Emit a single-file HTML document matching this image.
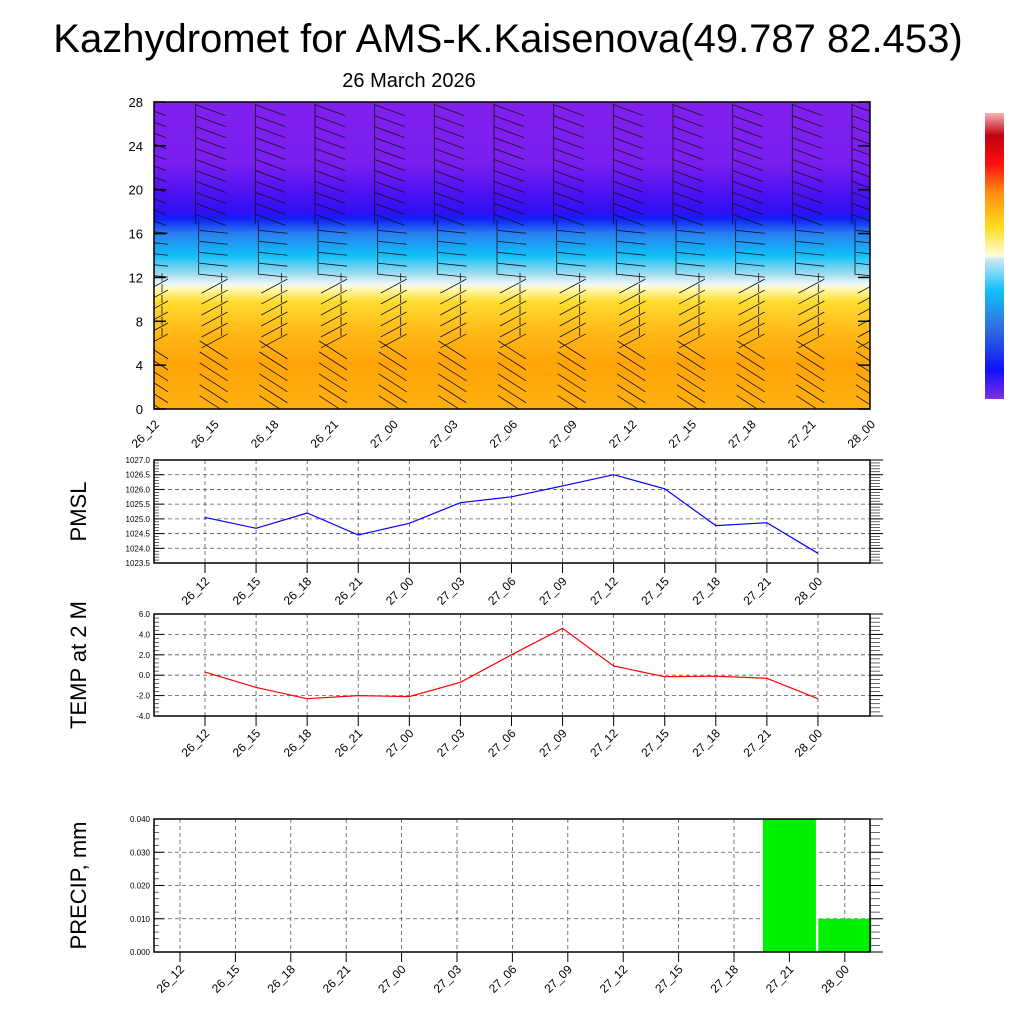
<!DOCTYPE html>
<html><head><meta charset="utf-8"><style>
html,body{margin:0;padding:0;background:#fff}
svg{display:block;font-family:"Liberation Sans",sans-serif}
</style></head><body>
<svg id="chart" width="1024" height="1024" viewBox="0 0 1024 1024" xmlns="http://www.w3.org/2000/svg">
<defs>
<clipPath id="plotclip"><rect x="154" y="102" width="716" height="307"/></clipPath>
<linearGradient id="cross" x1="0" y1="0" x2="0" y2="1">
<stop offset="0" stop-color="#8020ee"/>
<stop offset="0.2" stop-color="#7a1ef0"/>
<stop offset="0.3" stop-color="#4a12f2"/>
<stop offset="0.36" stop-color="#3010f4"/>
<stop offset="0.38" stop-color="#1020f8"/>
<stop offset="0.43" stop-color="#2a80f0"/>
<stop offset="0.5" stop-color="#10c0f8"/>
<stop offset="0.56" stop-color="#a0dcf0"/>
<stop offset="0.595" stop-color="#f4f8f8"/>
<stop offset="0.61" stop-color="#fff8b0"/>
<stop offset="0.65" stop-color="#ffdc30"/>
<stop offset="0.75" stop-color="#ffb818"/>
<stop offset="0.85" stop-color="#ffa408"/>
<stop offset="1" stop-color="#ffb010"/>
</linearGradient>
<linearGradient id="cbar" x1="0" y1="1" x2="0" y2="0">
<stop offset="0" stop-color="#8030e8"/>
<stop offset="0.1" stop-color="#1010f8"/>
<stop offset="0.25" stop-color="#3070e0"/>
<stop offset="0.38" stop-color="#10c0f8"/>
<stop offset="0.49" stop-color="#d0e8f4"/>
<stop offset="0.5" stop-color="#fffce0"/>
<stop offset="0.6" stop-color="#ffdc20"/>
<stop offset="0.72" stop-color="#ff9010"/>
<stop offset="0.82" stop-color="#ff1010"/>
<stop offset="0.92" stop-color="#c00010"/>
<stop offset="1" stop-color="#f8b0b0"/>
</linearGradient>
</defs>
<text x="508" y="52" font-size="40" text-anchor="middle">Kazhydromet for AMS-K.Kaisenova(49.787 82.453)</text>
<text x="409" y="87" font-size="20" text-anchor="middle">26 March 2026</text>
<rect x="154" y="102" width="716" height="307" fill="url(#cross)"/>
<g id="barbs" clip-path="url(#plotclip)"></g>
<rect x="154" y="102" width="716" height="307" fill="none" stroke="#000" stroke-width="1.5"/>
<g id="topaxis"></g>
<rect x="985" y="113" width="19" height="286" fill="url(#cbar)"/>
<g id="pmsl"></g>
<g id="temp"></g>
<g id="precip"></g>
</svg>
<script>
const times = ["26_12","26_15","26_18","26_21","27_00","27_03","27_06","27_09","27_12","27_15","27_18","27_21","28_00"];
const pmslValues = [1025.05,1024.68,1025.2,1024.45,1024.85,1025.55,1025.75,1026.12,1026.5,1026.02,1024.77,1024.87,1023.83];
const pmslTicks = ["1023.5","1024.0","1024.5","1025.0","1025.5","1026.0","1026.5","1027.0"];
const tempValues = [0.3,-1.2,-2.3,-2.0,-2.1,-0.7,2.0,4.6,0.9,-0.15,-0.1,-0.3,-2.3];
const tempTicks = ["-4.0","-2.0","0.0","2.0","4.0","6.0"];
const precipValues = [0,0,0,0,0,0,0,0,0,0,0,0.04,0.01];
const precipTicks = ["0.000","0.010","0.020","0.030","0.040"];
const heightTicks = ["0","4","8","12","16","20","24","28"];

const NS="http://www.w3.org/2000/svg";
function mk(parent,tag,attrs,text){const e=document.createElementNS(NS,tag);for(const k in attrs)e.setAttribute(k,attrs[k]);if(text!==undefined)e.textContent=text;parent.appendChild(e);return e;}

const topAxisG=document.getElementById('topaxis');
const tx=i=>154+i*(716/12), ty=h=>409-h*(307/28);
heightTicks.forEach(t=>{const y=ty(+t);
 const l=mk(topAxisG,'text',{x:143,y:y+5,'font-size':13,'text-anchor':'end'},t);
 
 
 mk(topAxisG,'line',{x1:154,x2:166,y1:y,y2:y,stroke:'#000','stroke-width':1.5});
 mk(topAxisG,'line',{x1:858,x2:870,y1:y,y2:y,stroke:'#000','stroke-width':1.5});
});
times.forEach((t,i)=>{const x=tx(i);
 const l=mk(topAxisG,'text',{x:x+6,y:425,'font-size':12,'text-anchor':'end',transform:`rotate(-45 ${x+6} 425)`},t);
 
 
});
const bg=document.getElementById('barbs');
for(let i=0;i<13;i++){for(let h=0.3;h<28;h+=1){
 const x=tx(i), y=ty(h);
 let d;
 if(h>17){ d=`M${x-18} ${y-6}L${x-18} ${y+5}M${x-18} ${y-5}L${x+12} ${y+6}`; }
 else if(h>11.5){ d=`M${x-15} ${y-10}L${x-15} ${y}L${x+14} ${y+3}`; }
 else if(h>6){ d=`M${x-12} ${y+8}L${x+14} ${y-6}M${x+8} ${y-4}L${x+8} ${y-12}`; }
 else { d=`M${x-14} ${y-10}L${x+14} ${y+8}`; }
 const p=mk(bg,'path',{d:d,stroke:'#111','stroke-width':0.8,fill:'none'});
 
 
}}

function panel(id,pTop,pBottom,vals,ticks,color,title,labelY,xstart,xstep,isBar){
 const g=document.getElementById(id);
 const L=154,R=870;
 const lo=+ticks[0],hi=+ticks[ticks.length-1];
 const Y=v=>pBottom-(v-lo)/(hi-lo)*(pBottom-pTop);
 const X=i=>xstart+i*xstep;
 ticks.forEach(t=>{const y=Y(+t);
  if(+t!==lo&&+t!==hi) mk(g,'line',{x1:L,x2:R,y1:y,y2:y,stroke:'#555','stroke-dasharray':'4 3','stroke-width':0.8});
  const l=mk(g,'text',{x:L-4,y:y+3,'font-size':8,'text-anchor':'end'},t);
  
  
  mk(g,'line',{x1:L,x2:L+10,y1:y,y2:y,stroke:'#000'});
  mk(g,'line',{x1:R,x2:R+13,y1:y,y2:y,stroke:'#000'});
 });
 const nm=(ticks.length-1)*5;
 for(let k=0;k<=nm;k++){const y=pBottom-k*(pBottom-pTop)/nm;
  mk(g,'line',{x1:L,x2:L+5,y1:y,y2:y,stroke:'#000','stroke-width':0.6});
  mk(g,'line',{x1:R,x2:R+10,y1:y,y2:y,stroke:'#000','stroke-width':0.6});}
 vals.forEach((v,i)=>{const x=X(i);
  mk(g,'line',{x1:x,x2:x,y1:pTop,y2:pBottom,stroke:'#555','stroke-dasharray':'4 3','stroke-width':0.8});
  mk(g,'line',{x1:x,x2:x,y1:pBottom,y2:pBottom+10,stroke:'#000'});
  const l=mk(g,'text',{x:x+5,y:labelY,'font-size':12,'text-anchor':'end',transform:`rotate(-45 ${x+5} ${labelY})`},times[i]);
  
  
 });
 if(isBar){vals.forEach((v,i)=>{if(v<=0)return;const x=X(i);
  const b=mk(g,'rect',{x:x-26.5,y:Y(v),width:53,height:pBottom-Y(v),fill:'#00f000'});
  
  });}
 else{const p=mk(g,'polyline',{points:vals.map((v,i)=>X(i)+','+Y(v).toFixed(1)).join(' '),fill:'none',stroke:color,'stroke-width':1.2});
  
  }
 mk(g,'rect',{x:L,y:pTop,width:R-L,height:pBottom-pTop,fill:'none',stroke:'#000','stroke-width':1.5});
 const cy=(pTop+pBottom)/2;
 const t=mk(g,'text',{x:86,y:cy,'font-size':22,'text-anchor':'middle',transform:`rotate(-90 86 ${cy})`},title);
 
 
}
panel('pmsl',460,563,pmslValues,pmslTicks,'#0000ff','PMSL',582,205,51.08,false);
panel('temp',614,716,tempValues,tempTicks,'#ff0000','TEMP at 2 M',734,205,51.08,false);
panel('precip',819,952,precipValues,precipTicks,'#00f000','PRECIP, mm',970,180,55.4,true);
</script>
</body></html>
